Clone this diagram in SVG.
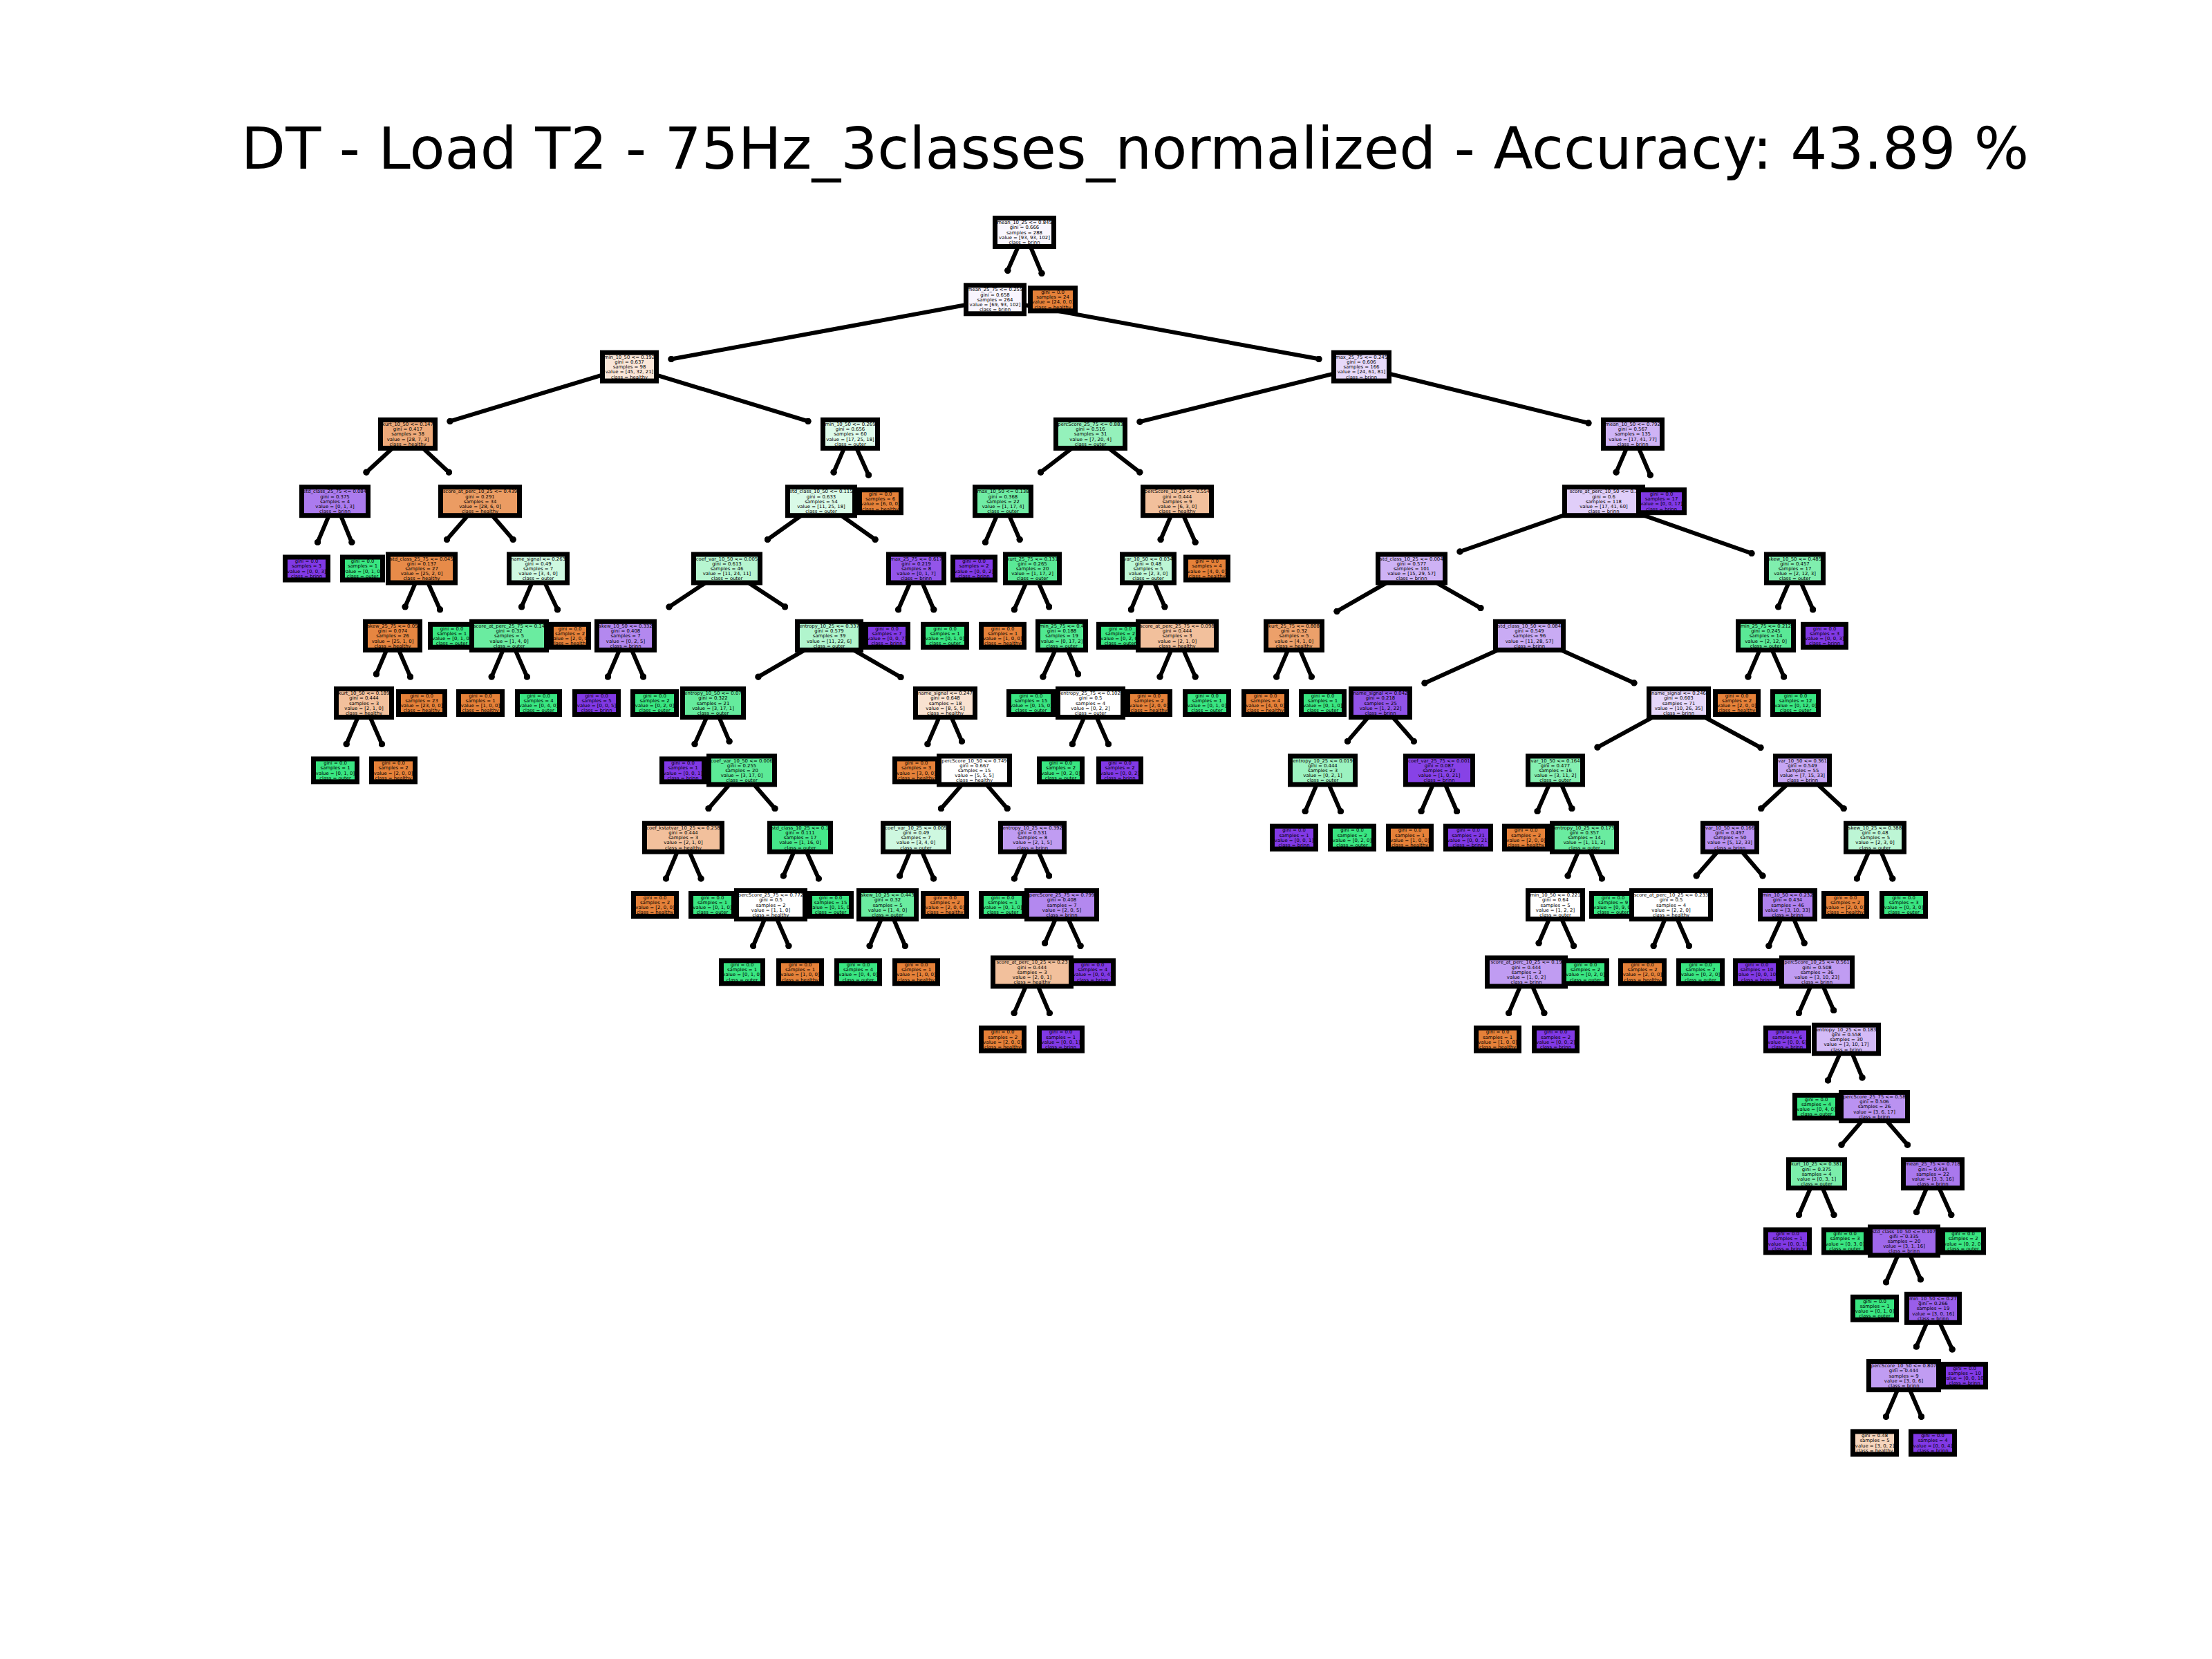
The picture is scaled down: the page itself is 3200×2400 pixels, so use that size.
<svg xmlns="http://www.w3.org/2000/svg" width="3200" height="2400" viewBox="0 0 3200 2400">
<defs>
<style>
.bg{fill:#ffffff}
.title{font-family:"DejaVu Sans","Liberation Sans",sans-serif;font-size:83.5px;text-anchor:middle;fill:#000}
rect.n{stroke:#000;stroke-width:7}
.h{fill:#e58139}.o{fill:#39e581}.p{fill:#8139e5}
text.t{font-family:"DejaVu Sans","Liberation Sans",sans-serif;font-size:6.9px;text-anchor:middle;fill:#000}
#edges line{stroke:#000;stroke-width:6;stroke-linecap:round;marker-end:url(#dot)}
</style>
<marker id="dot" viewBox="0 0 10 10" refX="5" refY="5" markerWidth="9.5" markerHeight="9.5" markerUnits="userSpaceOnUse"><circle cx="5" cy="5" r="5" fill="#000"/></marker>
</defs>
<rect class="bg" x="0" y="0" width="3200" height="2400"/>
<text class="title" x="1642" y="244">DT - Load T2 - 75Hz_3classes_normalized - Accuracy: 43.89 %</text>
<g id="edges">
<line x1="1482" y1="336" x2="1457.8" y2="391.3"/><line x1="1482" y1="336" x2="1507" y2="395.3"/>
<line x1="1439.5" y1="433.3" x2="971" y2="519.5"/><line x1="1439.5" y1="433.3" x2="1908" y2="519.3"/>
<line x1="910.5" y1="530.6" x2="651" y2="609.4"/><line x1="910.5" y1="530.6" x2="1169" y2="609.3"/>
<line x1="1969.5" y1="530.6" x2="1649" y2="610.2"/><line x1="1969.5" y1="530.6" x2="2298" y2="612"/>
<line x1="590" y1="627.9" x2="530" y2="683.2"/><line x1="590" y1="627.9" x2="649.4" y2="683.2"/>
<line x1="1230" y1="627.9" x2="1206.1" y2="683.2"/><line x1="1230" y1="627.9" x2="1256.5" y2="687.2"/>
<line x1="1577.5" y1="627.9" x2="1505.6" y2="683.2"/><line x1="1577.5" y1="627.9" x2="1648.8" y2="683.2"/>
<line x1="2362" y1="627.9" x2="2338.1" y2="683.2"/><line x1="2362" y1="627.9" x2="2387.3" y2="687.2"/>
<line x1="484.5" y1="725.2" x2="459.5" y2="784.5"/><line x1="484.5" y1="725.2" x2="508.9" y2="784.5"/>
<line x1="694.5" y1="725.2" x2="646.5" y2="780.5"/><line x1="694.5" y1="725.2" x2="742.2" y2="780.5"/>
<line x1="1188" y1="725.2" x2="1110.4" y2="780.5"/><line x1="1188" y1="725.2" x2="1266.1" y2="780.5"/>
<line x1="1451" y1="725.2" x2="1425.4" y2="784.5"/><line x1="1451" y1="725.2" x2="1475.2" y2="780.5"/>
<line x1="1703" y1="725.2" x2="1679.1" y2="780.5"/><line x1="1703" y1="725.2" x2="1729.2" y2="784.5"/>
<line x1="2320" y1="725.2" x2="2112" y2="798"/><line x1="2320" y1="725.2" x2="2534" y2="800.5"/>
<line x1="610" y1="822.5" x2="586.1" y2="877.8"/><line x1="610" y1="822.5" x2="636.5" y2="881.8"/>
<line x1="778.5" y1="822.5" x2="754.6" y2="877.8"/><line x1="778.5" y1="822.5" x2="806.5" y2="881.8"/>
<line x1="1051.5" y1="822.5" x2="968" y2="878"/><line x1="1051.5" y1="822.5" x2="1135.6" y2="877.8"/>
<line x1="1325.5" y1="822.5" x2="1299.6" y2="881.8"/><line x1="1325.5" y1="822.5" x2="1350.8" y2="881.8"/>
<line x1="1493.5" y1="822.5" x2="1467.3" y2="881.8"/><line x1="1493.5" y1="822.5" x2="1517.7" y2="877.8"/>
<line x1="1661" y1="822.5" x2="1636.3" y2="881.8"/><line x1="1661" y1="822.5" x2="1684.9" y2="877.8"/>
<line x1="2042" y1="822.5" x2="1934" y2="884.3"/><line x1="2042" y1="822.5" x2="2142" y2="879.6"/>
<line x1="2596.5" y1="822.5" x2="2572.6" y2="877.8"/><line x1="2596.5" y1="822.5" x2="2622.7" y2="881.8"/>
<line x1="568" y1="919.8" x2="544.4" y2="975.1"/><line x1="568" y1="919.8" x2="593.6" y2="979.1"/>
<line x1="736.5" y1="919.8" x2="711.2" y2="979.1"/><line x1="736.5" y1="919.8" x2="762.4" y2="979.1"/>
<line x1="905" y1="919.8" x2="879.4" y2="979.1"/><line x1="905" y1="919.8" x2="930.6" y2="979.1"/>
<line x1="1199.5" y1="919.8" x2="1097" y2="979.2"/><line x1="1199.5" y1="919.8" x2="1303" y2="979.7"/>
<line x1="1536" y1="919.8" x2="1508.9" y2="979.1"/><line x1="1536" y1="919.8" x2="1559.6" y2="975.1"/>
<line x1="1703" y1="919.8" x2="1678" y2="979.1"/><line x1="1703" y1="919.8" x2="1729.2" y2="979.1"/>
<line x1="1872" y1="919.8" x2="1846.7" y2="979.1"/><line x1="1872" y1="919.8" x2="1897.3" y2="979.1"/>
<line x1="2212.5" y1="919.8" x2="2061" y2="988.2"/><line x1="2212.5" y1="919.8" x2="2364" y2="988"/>
<line x1="2554.5" y1="919.8" x2="2528.9" y2="979.1"/><line x1="2554.5" y1="919.8" x2="2580.7" y2="979.1"/>
<line x1="526.5" y1="1017.1" x2="501.2" y2="1076.4"/><line x1="526.5" y1="1017.1" x2="552.4" y2="1076.4"/>
<line x1="1031.5" y1="1017.1" x2="1005" y2="1076.4"/><line x1="1031.5" y1="1017.1" x2="1055.1" y2="1072.4"/>
<line x1="1367.5" y1="1017.1" x2="1341.9" y2="1076.4"/><line x1="1367.5" y1="1017.1" x2="1391.4" y2="1072.4"/>
<line x1="1577.5" y1="1017.1" x2="1551.3" y2="1076.4"/><line x1="1577.5" y1="1017.1" x2="1603.4" y2="1076.4"/>
<line x1="1997" y1="1017.1" x2="1949.5" y2="1072.4"/><line x1="1997" y1="1017.1" x2="2045.3" y2="1072.4"/>
<line x1="2428.5" y1="1017.1" x2="2311" y2="1081.1"/><line x1="2428.5" y1="1017.1" x2="2547" y2="1081.5"/>
<line x1="1073" y1="1114.4" x2="1025" y2="1169.7"/><line x1="1073" y1="1114.4" x2="1121" y2="1169.7"/>
<line x1="1409.5" y1="1114.4" x2="1361.5" y2="1169.7"/><line x1="1409.5" y1="1114.4" x2="1457.2" y2="1169.7"/>
<line x1="1913.5" y1="1114.4" x2="1888.2" y2="1173.7"/><line x1="1913.5" y1="1114.4" x2="1939.4" y2="1173.7"/>
<line x1="2082" y1="1114.4" x2="2056.1" y2="1173.7"/><line x1="2082" y1="1114.4" x2="2107.6" y2="1173.7"/>
<line x1="2250" y1="1114.4" x2="2224.1" y2="1173.7"/><line x1="2250" y1="1114.4" x2="2273.9" y2="1169.7"/>
<line x1="2607.5" y1="1114.4" x2="2547.8" y2="1169.7"/><line x1="2607.5" y1="1114.4" x2="2667.2" y2="1169.7"/>
<line x1="988.5" y1="1211.7" x2="963.5" y2="1271"/><line x1="988.5" y1="1211.7" x2="1014.1" y2="1271"/>
<line x1="1157.5" y1="1211.7" x2="1133.3" y2="1267"/><line x1="1157.5" y1="1211.7" x2="1184.3" y2="1271"/>
<line x1="1325" y1="1211.7" x2="1301.7" y2="1267"/><line x1="1325" y1="1211.7" x2="1350.6" y2="1271"/>
<line x1="1493.5" y1="1211.7" x2="1467.3" y2="1271"/><line x1="1493.5" y1="1211.7" x2="1517.7" y2="1267"/>
<line x1="2292" y1="1211.7" x2="2268.1" y2="1267"/><line x1="2292" y1="1211.7" x2="2317.3" y2="1271"/>
<line x1="2502.5" y1="1211.7" x2="2454.2" y2="1267"/><line x1="2502.5" y1="1211.7" x2="2550" y2="1267"/>
<line x1="2712.5" y1="1211.7" x2="2686.3" y2="1271"/><line x1="2712.5" y1="1211.7" x2="2737.8" y2="1271"/>
<line x1="1115" y1="1309" x2="1089.7" y2="1368.3"/><line x1="1115" y1="1309" x2="1140.9" y2="1368.3"/>
<line x1="1284" y1="1309" x2="1258.1" y2="1368.3"/><line x1="1284" y1="1309" x2="1309.3" y2="1368.3"/>
<line x1="1536" y1="1309" x2="1511.6" y2="1364.3"/><line x1="1536" y1="1309" x2="1563.1" y2="1368.3"/>
<line x1="2250" y1="1309" x2="2226.1" y2="1364.3"/><line x1="2250" y1="1309" x2="2276.5" y2="1368.3"/>
<line x1="2417.5" y1="1309" x2="2392.2" y2="1368.3"/><line x1="2417.5" y1="1309" x2="2443.4" y2="1368.3"/>
<line x1="2586" y1="1309" x2="2558.9" y2="1368.3"/><line x1="2586" y1="1309" x2="2610.2" y2="1364.3"/>
<line x1="1493" y1="1406.3" x2="1467.1" y2="1465.6"/><line x1="1493" y1="1406.3" x2="1518.3" y2="1465.6"/>
<line x1="2208" y1="1406.3" x2="2182.7" y2="1465.6"/><line x1="2208" y1="1406.3" x2="2233.9" y2="1465.6"/>
<line x1="2628.5" y1="1406.3" x2="2602.3" y2="1465.6"/><line x1="2628.5" y1="1406.3" x2="2652.7" y2="1461.6"/>
<line x1="2671" y1="1503.6" x2="2644.5" y2="1562.9"/><line x1="2671" y1="1503.6" x2="2694" y2="1558.9"/>
<line x1="2711.5" y1="1600.9" x2="2664" y2="1656.2"/><line x1="2711.5" y1="1600.9" x2="2759.5" y2="1656.2"/>
<line x1="2628" y1="1698.2" x2="2602.4" y2="1757.5"/><line x1="2628" y1="1698.2" x2="2653" y2="1757.5"/>
<line x1="2796" y1="1698.2" x2="2772.4" y2="1753.5"/><line x1="2796" y1="1698.2" x2="2822.8" y2="1757.5"/>
<line x1="2754.5" y1="1795.5" x2="2728.6" y2="1854.8"/><line x1="2754.5" y1="1795.5" x2="2778.4" y2="1850.8"/>
<line x1="2796.5" y1="1892.8" x2="2772.3" y2="1948.1"/><line x1="2796.5" y1="1892.8" x2="2824.2" y2="1952.1"/>
<line x1="2754" y1="1990.1" x2="2728.4" y2="2049.4"/><line x1="2754" y1="1990.1" x2="2779.6" y2="2049.4"/>
</g>
<g id="nodes">
<!-- depth 18 -->
<g id="n132"><rect class="n" x="2680.5" y="2070.9" width="63" height="33" fill="#f6d5bd"/><text class="t" x="2712" y="2079.1">gini = 0.48<tspan x="2712" dy="7.2">samples = 5</tspan><tspan x="2712" dy="7.2">value = [3, 0, 2]</tspan><tspan x="2712" dy="7.2">class = healthy</tspan></text></g>
<g id="n133"><rect class="n p" x="2764.5" y="2070.9" width="63" height="33"/><text class="t" x="2796" y="2079.1">gini = 0.0<tspan x="2796" dy="7.2">samples = 4</tspan><tspan x="2796" dy="7.2">value = [0, 0, 4]</tspan><tspan x="2796" dy="7.2">class = brinn</tspan></text></g>
<!-- depth 17 -->
<g id="n130"><rect class="n" x="2703.5" y="1969.6" width="101" height="41" fill="#c09cf2"/><text class="t" x="2754" y="1978.2">percScore_10_50 &lt;= 0.807<tspan x="2754" dy="7.2">gini = 0.444</tspan><tspan x="2754" dy="7.2">samples = 9</tspan><tspan x="2754" dy="7.2">value = [3, 0, 6]</tspan><tspan x="2754" dy="7.2">class = brinn</tspan></text></g>
<g id="n131"><rect class="n p" x="2811.5" y="1973.6" width="61" height="33"/><text class="t" x="2842" y="1981.8">gini = 0.0<tspan x="2842" dy="7.2">samples = 10</tspan><tspan x="2842" dy="7.2">value = [0, 0, 10]</tspan><tspan x="2842" dy="7.2">class = brinn</tspan></text></g>
<!-- depth 16 -->
<g id="n128"><rect class="n o" x="2680.5" y="1876.3" width="63" height="33"/><text class="t" x="2712" y="1884.5">gini = 0.0<tspan x="2712" dy="7.2">samples = 1</tspan><tspan x="2712" dy="7.2">value = [0, 1, 0]</tspan><tspan x="2712" dy="7.2">class = outer</tspan></text></g>
<g id="n129"><rect class="n" x="2758.5" y="1872.3" width="76" height="41" fill="#995eea"/><text class="t" x="2796.5" y="1880.9">min_10_50 &lt;= 0.27<tspan x="2796.5" dy="7.2">gini = 0.266</tspan><tspan x="2796.5" dy="7.2">samples = 19</tspan><tspan x="2796.5" dy="7.2">value = [3, 0, 16]</tspan><tspan x="2796.5" dy="7.2">class = brinn</tspan></text></g>
<!-- depth 15 -->
<g id="n124"><rect class="n p" x="2554.5" y="1779" width="63" height="33"/><text class="t" x="2586" y="1787.2">gini = 0.0<tspan x="2586" dy="7.2">samples = 1</tspan><tspan x="2586" dy="7.2">value = [0, 0, 1]</tspan><tspan x="2586" dy="7.2">class = brinn</tspan></text></g>
<g id="n125"><rect class="n o" x="2638.5" y="1779" width="61" height="33"/><text class="t" x="2669" y="1787.2">gini = 0.0<tspan x="2669" dy="7.2">samples = 3</tspan><tspan x="2669" dy="7.2">value = [0, 3, 0]</tspan><tspan x="2669" dy="7.2">class = outer</tspan></text></g>
<g id="n126"><rect class="n" x="2705.5" y="1775" width="98" height="41" fill="#9f68eb"/><text class="t" x="2754.5" y="1783.6">std_class_10_50 &lt;= 0.107<tspan x="2754.5" dy="7.2">gini = 0.335</tspan><tspan x="2754.5" dy="7.2">samples = 20</tspan><tspan x="2754.5" dy="7.2">value = [3, 1, 16]</tspan><tspan x="2754.5" dy="7.2">class = brinn</tspan></text></g>
<g id="n127"><rect class="n o" x="2810.5" y="1779" width="59" height="33"/><text class="t" x="2840" y="1787.2">gini = 0.0<tspan x="2840" dy="7.2">samples = 2</tspan><tspan x="2840" dy="7.2">value = [0, 2, 0]</tspan><tspan x="2840" dy="7.2">class = outer</tspan></text></g>
<!-- depth 14 -->
<g id="n122"><rect class="n" x="2587.5" y="1677.7" width="81" height="41" fill="#7beeab"/><text class="t" x="2628" y="1686.3">kurt_10_25 &lt;= 0.381<tspan x="2628" dy="7.2">gini = 0.375</tspan><tspan x="2628" dy="7.2">samples = 4</tspan><tspan x="2628" dy="7.2">value = [0, 3, 1]</tspan><tspan x="2628" dy="7.2">class = outer</tspan></text></g>
<g id="n123"><rect class="n" x="2753.5" y="1677.7" width="85" height="41" fill="#a978ed"/><text class="t" x="2796" y="1686.3">mean_25_75 &lt;= 0.718<tspan x="2796" dy="7.2">gini = 0.434</tspan><tspan x="2796" dy="7.2">samples = 22</tspan><tspan x="2796" dy="7.2">value = [3, 3, 16]</tspan><tspan x="2796" dy="7.2">class = brinn</tspan></text></g>
<!-- depth 13 -->
<g id="n120"><rect class="n o" x="2596.5" y="1584.4" width="62" height="33"/><text class="t" x="2627.5" y="1592.6">gini = 0.0<tspan x="2627.5" dy="7.2">samples = 4</tspan><tspan x="2627.5" dy="7.2">value = [0, 4, 0]</tspan><tspan x="2627.5" dy="7.2">class = outer</tspan></text></g>
<g id="n121"><rect class="n" x="2663.5" y="1580.4" width="96" height="41" fill="#ba92f1"/><text class="t" x="2711.5" y="1589">percScore_25_75 &lt;= 0.58<tspan x="2711.5" dy="7.2">gini = 0.506</tspan><tspan x="2711.5" dy="7.2">samples = 26</tspan><tspan x="2711.5" dy="7.2">value = [3, 6, 17]</tspan><tspan x="2711.5" dy="7.2">class = brinn</tspan></text></g>
<!-- depth 12 -->
<g id="n114"><rect class="n h" x="1419.5" y="1487.1" width="62" height="33"/><text class="t" x="1450.5" y="1495.3">gini = 0.0<tspan x="1450.5" dy="7.2">samples = 2</tspan><tspan x="1450.5" dy="7.2">value = [2, 0, 0]</tspan><tspan x="1450.5" dy="7.2">class = healthy</tspan></text></g>
<g id="n115"><rect class="n p" x="1503.5" y="1487.1" width="62" height="33"/><text class="t" x="1534.5" y="1495.3">gini = 0.0<tspan x="1534.5" dy="7.2">samples = 1</tspan><tspan x="1534.5" dy="7.2">value = [0, 0, 1]</tspan><tspan x="1534.5" dy="7.2">class = brinn</tspan></text></g>
<g id="n116"><rect class="n h" x="2135.5" y="1487.1" width="62" height="33"/><text class="t" x="2166.5" y="1495.3">gini = 0.0<tspan x="2166.5" dy="7.2">samples = 1</tspan><tspan x="2166.5" dy="7.2">value = [1, 0, 0]</tspan><tspan x="2166.5" dy="7.2">class = healthy</tspan></text></g>
<g id="n117"><rect class="n p" x="2219.5" y="1487.1" width="62" height="33"/><text class="t" x="2250.5" y="1495.3">gini = 0.0<tspan x="2250.5" dy="7.2">samples = 2</tspan><tspan x="2250.5" dy="7.2">value = [0, 0, 2]</tspan><tspan x="2250.5" dy="7.2">class = brinn</tspan></text></g>
<g id="n118"><rect class="n p" x="2554.5" y="1487.1" width="62" height="33"/><text class="t" x="2585.5" y="1495.3">gini = 0.0<tspan x="2585.5" dy="7.2">samples = 6</tspan><tspan x="2585.5" dy="7.2">value = [0, 0, 6]</tspan><tspan x="2585.5" dy="7.2">class = brinn</tspan></text></g>
<g id="n119"><rect class="n" x="2624.5" y="1483.1" width="93" height="41" fill="#d3baf6"/><text class="t" x="2671" y="1491.7">entropy_10_25 &lt;= 0.183<tspan x="2671" dy="7.2">gini = 0.558</tspan><tspan x="2671" dy="7.2">samples = 30</tspan><tspan x="2671" dy="7.2">value = [3, 10, 17]</tspan><tspan x="2671" dy="7.2">class = brinn</tspan></text></g>
<!-- depth 11 -->
<g id="n102"><rect class="n o" x="1043.5" y="1389.8" width="60" height="33"/><text class="t" x="1073.5" y="1398">gini = 0.0<tspan x="1073.5" dy="7.2">samples = 1</tspan><tspan x="1073.5" dy="7.2">value = [0, 1, 0]</tspan><tspan x="1073.5" dy="7.2">class = outer</tspan></text></g>
<g id="n103"><rect class="n h" x="1126.5" y="1389.8" width="62" height="33"/><text class="t" x="1157.5" y="1398">gini = 0.0<tspan x="1157.5" dy="7.2">samples = 1</tspan><tspan x="1157.5" dy="7.2">value = [1, 0, 0]</tspan><tspan x="1157.5" dy="7.2">class = healthy</tspan></text></g>
<g id="n104"><rect class="n o" x="1210.5" y="1389.8" width="62" height="33"/><text class="t" x="1241.5" y="1398">gini = 0.0<tspan x="1241.5" dy="7.2">samples = 4</tspan><tspan x="1241.5" dy="7.2">value = [0, 4, 0]</tspan><tspan x="1241.5" dy="7.2">class = outer</tspan></text></g>
<g id="n105"><rect class="n h" x="1294.5" y="1389.8" width="62" height="33"/><text class="t" x="1325.5" y="1398">gini = 0.0<tspan x="1325.5" dy="7.2">samples = 1</tspan><tspan x="1325.5" dy="7.2">value = [1, 0, 0]</tspan><tspan x="1325.5" dy="7.2">class = healthy</tspan></text></g>
<g id="n106"><rect class="n" x="1436.5" y="1385.8" width="113" height="41" fill="#f2c09c"/><text class="t" x="1493" y="1394.4">score_at_perc_10_25 &lt;= 0.23<tspan x="1493" dy="7.2">gini = 0.444</tspan><tspan x="1493" dy="7.2">samples = 3</tspan><tspan x="1493" dy="7.2">value = [2, 0, 1]</tspan><tspan x="1493" dy="7.2">class = healthy</tspan></text></g>
<g id="n107"><rect class="n p" x="1550.5" y="1389.8" width="60" height="33"/><text class="t" x="1580.5" y="1398">gini = 0.0<tspan x="1580.5" dy="7.2">samples = 4</tspan><tspan x="1580.5" dy="7.2">value = [0, 0, 4]</tspan><tspan x="1580.5" dy="7.2">class = brinn</tspan></text></g>
<g id="n108"><rect class="n" x="2151.5" y="1385.8" width="113" height="41" fill="#c09cf2"/><text class="t" x="2208" y="1394.4">score_at_perc_10_25 &lt;= 0.19<tspan x="2208" dy="7.2">gini = 0.444</tspan><tspan x="2208" dy="7.2">samples = 3</tspan><tspan x="2208" dy="7.2">value = [1, 0, 2]</tspan><tspan x="2208" dy="7.2">class = brinn</tspan></text></g>
<g id="n109"><rect class="n o" x="2262.5" y="1389.8" width="62" height="33"/><text class="t" x="2293.5" y="1398">gini = 0.0<tspan x="2293.5" dy="7.2">samples = 2</tspan><tspan x="2293.5" dy="7.2">value = [0, 2, 0]</tspan><tspan x="2293.5" dy="7.2">class = outer</tspan></text></g>
<g id="n110"><rect class="n h" x="2344.5" y="1389.8" width="63" height="33"/><text class="t" x="2376" y="1398">gini = 0.0<tspan x="2376" dy="7.2">samples = 2</tspan><tspan x="2376" dy="7.2">value = [2, 0, 0]</tspan><tspan x="2376" dy="7.2">class = healthy</tspan></text></g>
<g id="n111"><rect class="n o" x="2428.5" y="1389.8" width="63" height="33"/><text class="t" x="2460" y="1398">gini = 0.0<tspan x="2460" dy="7.2">samples = 2</tspan><tspan x="2460" dy="7.2">value = [0, 2, 0]</tspan><tspan x="2460" dy="7.2">class = outer</tspan></text></g>
<g id="n112"><rect class="n p" x="2510.5" y="1389.8" width="62" height="33"/><text class="t" x="2541.5" y="1398">gini = 0.0<tspan x="2541.5" dy="7.2">samples = 10</tspan><tspan x="2541.5" dy="7.2">value = [0, 0, 10]</tspan><tspan x="2541.5" dy="7.2">class = brinn</tspan></text></g>
<g id="n113"><rect class="n" x="2577.5" y="1385.8" width="102" height="41" fill="#c09cf2"/><text class="t" x="2628.5" y="1394.4">percScore_10_25 &lt;= 0.561<tspan x="2628.5" dy="7.2">gini = 0.508</tspan><tspan x="2628.5" dy="7.2">samples = 36</tspan><tspan x="2628.5" dy="7.2">value = [3, 10, 23]</tspan><tspan x="2628.5" dy="7.2">class = brinn</tspan></text></g>
<!-- depth 10 -->
<g id="n88"><rect class="n h" x="916.5" y="1292.5" width="62" height="33"/><text class="t" x="947.5" y="1300.7">gini = 0.0<tspan x="947.5" dy="7.2">samples = 2</tspan><tspan x="947.5" dy="7.2">value = [2, 0, 0]</tspan><tspan x="947.5" dy="7.2">class = healthy</tspan></text></g>
<g id="n89"><rect class="n o" x="999.5" y="1292.5" width="62" height="33"/><text class="t" x="1030.5" y="1300.7">gini = 0.0<tspan x="1030.5" dy="7.2">samples = 1</tspan><tspan x="1030.5" dy="7.2">value = [0, 1, 0]</tspan><tspan x="1030.5" dy="7.2">class = outer</tspan></text></g>
<g id="n90"><rect class="n" x="1065.5" y="1288.5" width="99" height="41" fill="#ffffff"/><text class="t" x="1115" y="1297.1">percScore_25_75 &lt;= 0.772<tspan x="1115" dy="7.2">gini = 0.5</tspan><tspan x="1115" dy="7.2">samples = 2</tspan><tspan x="1115" dy="7.2">value = [1, 1, 0]</tspan><tspan x="1115" dy="7.2">class = healthy</tspan></text></g>
<g id="n91"><rect class="n o" x="1171.5" y="1292.5" width="60" height="33"/><text class="t" x="1201.5" y="1300.7">gini = 0.0<tspan x="1201.5" dy="7.2">samples = 15</tspan><tspan x="1201.5" dy="7.2">value = [0, 15, 0]</tspan><tspan x="1201.5" dy="7.2">class = outer</tspan></text></g>
<g id="n92"><rect class="n" x="1242.5" y="1288.5" width="83" height="41" fill="#6aeca0"/><text class="t" x="1284" y="1297.1">skew_10_25 &lt;= 0.443<tspan x="1284" dy="7.2">gini = 0.32</tspan><tspan x="1284" dy="7.2">samples = 5</tspan><tspan x="1284" dy="7.2">value = [1, 4, 0]</tspan><tspan x="1284" dy="7.2">class = outer</tspan></text></g>
<g id="n93"><rect class="n h" x="1335.5" y="1292.5" width="63" height="33"/><text class="t" x="1367" y="1300.7">gini = 0.0<tspan x="1367" dy="7.2">samples = 2</tspan><tspan x="1367" dy="7.2">value = [2, 0, 0]</tspan><tspan x="1367" dy="7.2">class = healthy</tspan></text></g>
<g id="n94"><rect class="n o" x="1419.5" y="1292.5" width="62" height="33"/><text class="t" x="1450.5" y="1300.7">gini = 0.0<tspan x="1450.5" dy="7.2">samples = 1</tspan><tspan x="1450.5" dy="7.2">value = [0, 1, 0]</tspan><tspan x="1450.5" dy="7.2">class = outer</tspan></text></g>
<g id="n95"><rect class="n" x="1485.5" y="1288.5" width="101" height="41" fill="#b388ef"/><text class="t" x="1536" y="1297.1">percScore_25_75 &lt;= 0.799<tspan x="1536" dy="7.2">gini = 0.408</tspan><tspan x="1536" dy="7.2">samples = 7</tspan><tspan x="1536" dy="7.2">value = [2, 0, 5]</tspan><tspan x="1536" dy="7.2">class = brinn</tspan></text></g>
<g id="n96"><rect class="n" x="2210.5" y="1288.5" width="79" height="41" fill="#ffffff"/><text class="t" x="2250" y="1297.1">min_10_50 &lt;= 0.221<tspan x="2250" dy="7.2">gini = 0.64</tspan><tspan x="2250" dy="7.2">samples = 5</tspan><tspan x="2250" dy="7.2">value = [1, 2, 2]</tspan><tspan x="2250" dy="7.2">class = outer</tspan></text></g>
<g id="n97"><rect class="n o" x="2302.5" y="1292.5" width="62" height="33"/><text class="t" x="2333.5" y="1300.7">gini = 0.0<tspan x="2333.5" dy="7.2">samples = 9</tspan><tspan x="2333.5" dy="7.2">value = [0, 9, 0]</tspan><tspan x="2333.5" dy="7.2">class = outer</tspan></text></g>
<g id="n98"><rect class="n" x="2360.5" y="1288.5" width="114" height="41" fill="#ffffff"/><text class="t" x="2417.5" y="1297.1">score_at_perc_10_25 &lt;= 0.233<tspan x="2417.5" dy="7.2">gini = 0.5</tspan><tspan x="2417.5" dy="7.2">samples = 4</tspan><tspan x="2417.5" dy="7.2">value = [2, 2, 0]</tspan><tspan x="2417.5" dy="7.2">class = healthy</tspan></text></g>
<g id="n99"><rect class="n" x="2546.5" y="1288.5" width="79" height="41" fill="#ae80ee"/><text class="t" x="2586" y="1297.1">min_10_50 &lt;= 0.232<tspan x="2586" dy="7.2">gini = 0.434</tspan><tspan x="2586" dy="7.2">samples = 46</tspan><tspan x="2586" dy="7.2">value = [3, 10, 33]</tspan><tspan x="2586" dy="7.2">class = brinn</tspan></text></g>
<g id="n100"><rect class="n h" x="2638.5" y="1292.5" width="62" height="33"/><text class="t" x="2669.5" y="1300.7">gini = 0.0<tspan x="2669.5" dy="7.2">samples = 2</tspan><tspan x="2669.5" dy="7.2">value = [2, 0, 0]</tspan><tspan x="2669.5" dy="7.2">class = healthy</tspan></text></g>
<g id="n101"><rect class="n o" x="2722.5" y="1292.5" width="63" height="33"/><text class="t" x="2754" y="1300.7">gini = 0.0<tspan x="2754" dy="7.2">samples = 3</tspan><tspan x="2754" dy="7.2">value = [0, 3, 0]</tspan><tspan x="2754" dy="7.2">class = outer</tspan></text></g>
<!-- depth 9 -->
<g id="n76"><rect class="n" x="932.5" y="1191.2" width="112" height="41" fill="#f2c09c"/><text class="t" x="988.5" y="1199.8">coef_kstatvar_10_25 &lt;= 0.258<tspan x="988.5" dy="7.2">gini = 0.444</tspan><tspan x="988.5" dy="7.2">samples = 3</tspan><tspan x="988.5" dy="7.2">value = [2, 1, 0]</tspan><tspan x="988.5" dy="7.2">class = healthy</tspan></text></g>
<g id="n77"><rect class="n" x="1113.5" y="1191.2" width="88" height="41" fill="#45e789"/><text class="t" x="1157.5" y="1199.8">std_class_10_25 &lt;= 0.1<tspan x="1157.5" dy="7.2">gini = 0.111</tspan><tspan x="1157.5" dy="7.2">samples = 17</tspan><tspan x="1157.5" dy="7.2">value = [1, 16, 0]</tspan><tspan x="1157.5" dy="7.2">class = outer</tspan></text></g>
<g id="n78"><rect class="n" x="1277.5" y="1191.2" width="95" height="41" fill="#cef8e0"/><text class="t" x="1325" y="1199.8">coef_var_10_25 &lt;= 0.005<tspan x="1325" dy="7.2">gini = 0.49</tspan><tspan x="1325" dy="7.2">samples = 7</tspan><tspan x="1325" dy="7.2">value = [3, 4, 0]</tspan><tspan x="1325" dy="7.2">class = outer</tspan></text></g>
<g id="n79"><rect class="n" x="1447.5" y="1191.2" width="92" height="41" fill="#c09cf2"/><text class="t" x="1493.5" y="1199.8">entropy_10_25 &lt;= 0.392<tspan x="1493.5" dy="7.2">gini = 0.531</tspan><tspan x="1493.5" dy="7.2">samples = 8</tspan><tspan x="1493.5" dy="7.2">value = [2, 1, 5]</tspan><tspan x="1493.5" dy="7.2">class = brinn</tspan></text></g>
<g id="n80"><rect class="n p" x="1840.5" y="1195.2" width="63" height="33"/><text class="t" x="1872" y="1203.4">gini = 0.0<tspan x="1872" dy="7.2">samples = 1</tspan><tspan x="1872" dy="7.2">value = [0, 0, 1]</tspan><tspan x="1872" dy="7.2">class = brinn</tspan></text></g>
<g id="n81"><rect class="n o" x="1924.5" y="1195.2" width="63" height="33"/><text class="t" x="1956" y="1203.4">gini = 0.0<tspan x="1956" dy="7.2">samples = 2</tspan><tspan x="1956" dy="7.2">value = [0, 2, 0]</tspan><tspan x="1956" dy="7.2">class = outer</tspan></text></g>
<g id="n82"><rect class="n h" x="2008.5" y="1195.2" width="62" height="33"/><text class="t" x="2039.5" y="1203.4">gini = 0.0<tspan x="2039.5" dy="7.2">samples = 1</tspan><tspan x="2039.5" dy="7.2">value = [1, 0, 0]</tspan><tspan x="2039.5" dy="7.2">class = healthy</tspan></text></g>
<g id="n83"><rect class="n p" x="2091.5" y="1195.2" width="65" height="33"/><text class="t" x="2124" y="1203.4">gini = 0.0<tspan x="2124" dy="7.2">samples = 21</tspan><tspan x="2124" dy="7.2">value = [0, 0, 21]</tspan><tspan x="2124" dy="7.2">class = brinn</tspan></text></g>
<g id="n84"><rect class="n h" x="2176.5" y="1195.2" width="62" height="33"/><text class="t" x="2207.5" y="1203.4">gini = 0.0<tspan x="2207.5" dy="7.2">samples = 2</tspan><tspan x="2207.5" dy="7.2">value = [2, 0, 0]</tspan><tspan x="2207.5" dy="7.2">class = healthy</tspan></text></g>
<g id="n85"><rect class="n" x="2245.5" y="1191.2" width="93" height="41" fill="#6aeca0"/><text class="t" x="2292" y="1199.8">entropy_10_25 &lt;= 0.173<tspan x="2292" dy="7.2">gini = 0.357</tspan><tspan x="2292" dy="7.2">samples = 14</tspan><tspan x="2292" dy="7.2">value = [1, 11, 2]</tspan><tspan x="2292" dy="7.2">class = outer</tspan></text></g>
<g id="n86"><rect class="n" x="2463.5" y="1191.2" width="78" height="41" fill="#b991f1"/><text class="t" x="2502.5" y="1199.8">var_10_50 &lt;= 0.166<tspan x="2502.5" dy="7.2">gini = 0.497</tspan><tspan x="2502.5" dy="7.2">samples = 50</tspan><tspan x="2502.5" dy="7.2">value = [5, 12, 33]</tspan><tspan x="2502.5" dy="7.2">class = brinn</tspan></text></g>
<g id="n87"><rect class="n" x="2670.5" y="1191.2" width="84" height="41" fill="#bdf6d5"/><text class="t" x="2712.5" y="1199.8">skew_10_25 &lt;= 0.388<tspan x="2712.5" dy="7.2">gini = 0.48</tspan><tspan x="2712.5" dy="7.2">samples = 5</tspan><tspan x="2712.5" dy="7.2">value = [2, 3, 0]</tspan><tspan x="2712.5" dy="7.2">class = outer</tspan></text></g>
<!-- depth 8 -->
<g id="n64"><rect class="n o" x="453.5" y="1097.9" width="63" height="33"/><text class="t" x="485" y="1106.1">gini = 0.0<tspan x="485" dy="7.2">samples = 1</tspan><tspan x="485" dy="7.2">value = [0, 1, 0]</tspan><tspan x="485" dy="7.2">class = outer</tspan></text></g>
<g id="n65"><rect class="n h" x="537.5" y="1097.9" width="63" height="33"/><text class="t" x="569" y="1106.1">gini = 0.0<tspan x="569" dy="7.2">samples = 2</tspan><tspan x="569" dy="7.2">value = [2, 0, 0]</tspan><tspan x="569" dy="7.2">class = healthy</tspan></text></g>
<g id="n66"><rect class="n p" x="957.5" y="1097.9" width="61" height="33"/><text class="t" x="988" y="1106.1">gini = 0.0<tspan x="988" dy="7.2">samples = 1</tspan><tspan x="988" dy="7.2">value = [0, 0, 1]</tspan><tspan x="988" dy="7.2">class = brinn</tspan></text></g>
<g id="n67"><rect class="n" x="1025.5" y="1093.9" width="95" height="41" fill="#5cea97"/><text class="t" x="1073" y="1102.5">coef_var_10_50 &lt;= 0.006<tspan x="1073" dy="7.2">gini = 0.255</tspan><tspan x="1073" dy="7.2">samples = 20</tspan><tspan x="1073" dy="7.2">value = [3, 17, 0]</tspan><tspan x="1073" dy="7.2">class = outer</tspan></text></g>
<g id="n68"><rect class="n h" x="1294.5" y="1097.9" width="62" height="33"/><text class="t" x="1325.5" y="1106.1">gini = 0.0<tspan x="1325.5" dy="7.2">samples = 3</tspan><tspan x="1325.5" dy="7.2">value = [3, 0, 0]</tspan><tspan x="1325.5" dy="7.2">class = healthy</tspan></text></g>
<g id="n69"><rect class="n" x="1358.5" y="1093.9" width="102" height="41" fill="#ffffff"/><text class="t" x="1409.5" y="1102.5">percScore_10_50 &lt;= 0.749<tspan x="1409.5" dy="7.2">gini = 0.667</tspan><tspan x="1409.5" dy="7.2">samples = 15</tspan><tspan x="1409.5" dy="7.2">value = [5, 5, 5]</tspan><tspan x="1409.5" dy="7.2">class = healthy</tspan></text></g>
<g id="n70"><rect class="n o" x="1503.5" y="1097.9" width="62" height="33"/><text class="t" x="1534.5" y="1106.1">gini = 0.0<tspan x="1534.5" dy="7.2">samples = 2</tspan><tspan x="1534.5" dy="7.2">value = [0, 2, 0]</tspan><tspan x="1534.5" dy="7.2">class = outer</tspan></text></g>
<g id="n71"><rect class="n p" x="1589.5" y="1097.9" width="61" height="33"/><text class="t" x="1620" y="1106.1">gini = 0.0<tspan x="1620" dy="7.2">samples = 2</tspan><tspan x="1620" dy="7.2">value = [0, 0, 2]</tspan><tspan x="1620" dy="7.2">class = brinn</tspan></text></g>
<g id="n72"><rect class="n" x="1866.5" y="1093.9" width="94" height="41" fill="#9cf2c0"/><text class="t" x="1913.5" y="1102.5">entropy_10_25 &lt;= 0.019<tspan x="1913.5" dy="7.2">gini = 0.444</tspan><tspan x="1913.5" dy="7.2">samples = 3</tspan><tspan x="1913.5" dy="7.2">value = [0, 2, 1]</tspan><tspan x="1913.5" dy="7.2">class = outer</tspan></text></g>
<g id="n73"><rect class="n" x="2033.5" y="1093.9" width="97" height="41" fill="#8742e6"/><text class="t" x="2082" y="1102.5">coef_var_25_75 &lt;= 0.001<tspan x="2082" dy="7.2">gini = 0.087</tspan><tspan x="2082" dy="7.2">samples = 22</tspan><tspan x="2082" dy="7.2">value = [1, 0, 21]</tspan><tspan x="2082" dy="7.2">class = brinn</tspan></text></g>
<g id="n74"><rect class="n" x="2210.5" y="1093.9" width="79" height="41" fill="#85efb1"/><text class="t" x="2250" y="1102.5">var_10_50 &lt;= 0.164<tspan x="2250" dy="7.2">gini = 0.477</tspan><tspan x="2250" dy="7.2">samples = 16</tspan><tspan x="2250" dy="7.2">value = [3, 11, 2]</tspan><tspan x="2250" dy="7.2">class = outer</tspan></text></g>
<g id="n75"><rect class="n" x="2568.5" y="1093.9" width="78" height="41" fill="#c6a6f3"/><text class="t" x="2607.5" y="1102.5">var_10_50 &lt;= 0.361<tspan x="2607.5" dy="7.2">gini = 0.549</tspan><tspan x="2607.5" dy="7.2">samples = 55</tspan><tspan x="2607.5" dy="7.2">value = [7, 15, 33]</tspan><tspan x="2607.5" dy="7.2">class = brinn</tspan></text></g>
<!-- depth 7 -->
<g id="n46"><rect class="n" x="486.5" y="996.6" width="80" height="41" fill="#f2c09c"/><text class="t" x="526.5" y="1005.2">kurt_10_50 &lt;= 0.189<tspan x="526.5" dy="7.2">gini = 0.444</tspan><tspan x="526.5" dy="7.2">samples = 3</tspan><tspan x="526.5" dy="7.2">value = [2, 1, 0]</tspan><tspan x="526.5" dy="7.2">class = healthy</tspan></text></g>
<g id="n47"><rect class="n h" x="576.5" y="1000.6" width="67" height="33"/><text class="t" x="610" y="1008.8">gini = 0.0<tspan x="610" dy="7.2">samples = 23</tspan><tspan x="610" dy="7.2">value = [23, 0, 0]</tspan><tspan x="610" dy="7.2">class = healthy</tspan></text></g>
<g id="n48"><rect class="n h" x="663.5" y="1000.6" width="63" height="33"/><text class="t" x="695" y="1008.8">gini = 0.0<tspan x="695" dy="7.2">samples = 1</tspan><tspan x="695" dy="7.2">value = [1, 0, 0]</tspan><tspan x="695" dy="7.2">class = healthy</tspan></text></g>
<g id="n49"><rect class="n o" x="748.5" y="1000.6" width="61" height="33"/><text class="t" x="779" y="1008.8">gini = 0.0<tspan x="779" dy="7.2">samples = 4</tspan><tspan x="779" dy="7.2">value = [0, 4, 0]</tspan><tspan x="779" dy="7.2">class = outer</tspan></text></g>
<g id="n50"><rect class="n p" x="831.5" y="1000.6" width="63" height="33"/><text class="t" x="863" y="1008.8">gini = 0.0<tspan x="863" dy="7.2">samples = 5</tspan><tspan x="863" dy="7.2">value = [0, 0, 5]</tspan><tspan x="863" dy="7.2">class = brinn</tspan></text></g>
<g id="n51"><rect class="n o" x="915.5" y="1000.6" width="63" height="33"/><text class="t" x="947" y="1008.8">gini = 0.0<tspan x="947" dy="7.2">samples = 2</tspan><tspan x="947" dy="7.2">value = [0, 2, 0]</tspan><tspan x="947" dy="7.2">class = outer</tspan></text></g>
<g id="n52"><rect class="n" x="987.5" y="996.6" width="88" height="41" fill="#65eb9d"/><text class="t" x="1031.5" y="1005.2">entropy_10_50 &lt;= 0.07<tspan x="1031.5" dy="7.2">gini = 0.322</tspan><tspan x="1031.5" dy="7.2">samples = 21</tspan><tspan x="1031.5" dy="7.2">value = [3, 17, 1]</tspan><tspan x="1031.5" dy="7.2">class = outer</tspan></text></g>
<g id="n53"><rect class="n" x="1324.5" y="996.6" width="86" height="41" fill="#f9e2d1"/><text class="t" x="1367.5" y="1005.2">name_signal &lt;= 0.247<tspan x="1367.5" dy="7.2">gini = 0.648</tspan><tspan x="1367.5" dy="7.2">samples = 18</tspan><tspan x="1367.5" dy="7.2">value = [8, 5, 5]</tspan><tspan x="1367.5" dy="7.2">class = healthy</tspan></text></g>
<g id="n54"><rect class="n o" x="1459.5" y="1000.6" width="64" height="33"/><text class="t" x="1491.5" y="1008.8">gini = 0.0<tspan x="1491.5" dy="7.2">samples = 15</tspan><tspan x="1491.5" dy="7.2">value = [0, 15, 0]</tspan><tspan x="1491.5" dy="7.2">class = outer</tspan></text></g>
<g id="n55"><rect class="n" x="1530.5" y="996.6" width="94" height="41" fill="#ffffff"/><text class="t" x="1577.5" y="1005.2">entropy_25_75 &lt;= 0.102<tspan x="1577.5" dy="7.2">gini = 0.5</tspan><tspan x="1577.5" dy="7.2">samples = 4</tspan><tspan x="1577.5" dy="7.2">value = [0, 2, 2]</tspan><tspan x="1577.5" dy="7.2">class = outer</tspan></text></g>
<g id="n56"><rect class="n h" x="1631.5" y="1000.6" width="61" height="33"/><text class="t" x="1662" y="1008.8">gini = 0.0<tspan x="1662" dy="7.2">samples = 2</tspan><tspan x="1662" dy="7.2">value = [2, 0, 0]</tspan><tspan x="1662" dy="7.2">class = healthy</tspan></text></g>
<g id="n57"><rect class="n o" x="1714.5" y="1000.6" width="63" height="33"/><text class="t" x="1746" y="1008.8">gini = 0.0<tspan x="1746" dy="7.2">samples = 1</tspan><tspan x="1746" dy="7.2">value = [0, 1, 0]</tspan><tspan x="1746" dy="7.2">class = outer</tspan></text></g>
<g id="n58"><rect class="n h" x="1799.5" y="1000.6" width="62" height="33"/><text class="t" x="1830.5" y="1008.8">gini = 0.0<tspan x="1830.5" dy="7.2">samples = 4</tspan><tspan x="1830.5" dy="7.2">value = [4, 0, 0]</tspan><tspan x="1830.5" dy="7.2">class = healthy</tspan></text></g>
<g id="n59"><rect class="n o" x="1882.5" y="1000.6" width="62" height="33"/><text class="t" x="1913.5" y="1008.8">gini = 0.0<tspan x="1913.5" dy="7.2">samples = 1</tspan><tspan x="1913.5" dy="7.2">value = [0, 1, 0]</tspan><tspan x="1913.5" dy="7.2">class = outer</tspan></text></g>
<g id="n60"><rect class="n" x="1954.5" y="996.6" width="85" height="41" fill="#9153e8"/><text class="t" x="1997" y="1005.2">name_signal &lt;= 0.042<tspan x="1997" dy="7.2">gini = 0.218</tspan><tspan x="1997" dy="7.2">samples = 25</tspan><tspan x="1997" dy="7.2">value = [1, 2, 22]</tspan><tspan x="1997" dy="7.2">class = brinn</tspan></text></g>
<g id="n61"><rect class="n" x="2385.5" y="996.6" width="86" height="41" fill="#e6d7fa"/><text class="t" x="2428.5" y="1005.2">name_signal &lt;= 0.246<tspan x="2428.5" dy="7.2">gini = 0.603</tspan><tspan x="2428.5" dy="7.2">samples = 71</tspan><tspan x="2428.5" dy="7.2">value = [10, 26, 35]</tspan><tspan x="2428.5" dy="7.2">class = brinn</tspan></text></g>
<g id="n62"><rect class="n h" x="2481.5" y="1000.6" width="62" height="33"/><text class="t" x="2512.5" y="1008.8">gini = 0.0<tspan x="2512.5" dy="7.2">samples = 2</tspan><tspan x="2512.5" dy="7.2">value = [2, 0, 0]</tspan><tspan x="2512.5" dy="7.2">class = healthy</tspan></text></g>
<g id="n63"><rect class="n o" x="2564.5" y="1000.6" width="66" height="33"/><text class="t" x="2597.5" y="1008.8">gini = 0.0<tspan x="2597.5" dy="7.2">samples = 12</tspan><tspan x="2597.5" dy="7.2">value = [0, 12, 0]</tspan><tspan x="2597.5" dy="7.2">class = outer</tspan></text></g>
<!-- depth 6 -->
<g id="n30"><rect class="n" x="528.5" y="899.3" width="79" height="41" fill="#e68641"/><text class="t" x="568" y="907.9">skew_25_75 &lt;= 0.05<tspan x="568" dy="7.2">gini = 0.074</tspan><tspan x="568" dy="7.2">samples = 26</tspan><tspan x="568" dy="7.2">value = [25, 1, 0]</tspan><tspan x="568" dy="7.2">class = healthy</tspan></text></g>
<g id="n31"><rect class="n o" x="622.5" y="903.3" width="62" height="33"/><text class="t" x="653.5" y="911.5">gini = 0.0<tspan x="653.5" dy="7.2">samples = 1</tspan><tspan x="653.5" dy="7.2">value = [0, 1, 0]</tspan><tspan x="653.5" dy="7.2">class = outer</tspan></text></g>
<g id="n32"><rect class="n" x="682.5" y="899.3" width="108" height="41" fill="#6aeca0"/><text class="t" x="736.5" y="907.9">score_at_perc_25_75 &lt;= 0.14<tspan x="736.5" dy="7.2">gini = 0.32</tspan><tspan x="736.5" dy="7.2">samples = 5</tspan><tspan x="736.5" dy="7.2">value = [1, 4, 0]</tspan><tspan x="736.5" dy="7.2">class = outer</tspan></text></g>
<g id="n33"><rect class="n h" x="797.5" y="903.3" width="54" height="33"/><text class="t" x="824.5" y="911.5">gini = 0.0<tspan x="824.5" dy="7.2">samples = 2</tspan><tspan x="824.5" dy="7.2">value = [2, 0, 0]</tspan><tspan x="824.5" dy="7.2">class = healthy</tspan></text></g>
<g id="n34"><rect class="n" x="863.5" y="899.3" width="83" height="41" fill="#b388ef"/><text class="t" x="905" y="907.9">skew_10_50 &lt;= 0.332<tspan x="905" dy="7.2">gini = 0.408</tspan><tspan x="905" dy="7.2">samples = 7</tspan><tspan x="905" dy="7.2">value = [0, 2, 5]</tspan><tspan x="905" dy="7.2">class = brinn</tspan></text></g>
<g id="n35"><rect class="n" x="1153.5" y="899.3" width="92" height="41" fill="#b1f5cd"/><text class="t" x="1199.5" y="907.9">entropy_10_25 &lt;= 0.337<tspan x="1199.5" dy="7.2">gini = 0.579</tspan><tspan x="1199.5" dy="7.2">samples = 39</tspan><tspan x="1199.5" dy="7.2">value = [11, 22, 6]</tspan><tspan x="1199.5" dy="7.2">class = outer</tspan></text></g>
<g id="n36"><rect class="n p" x="1252.5" y="903.3" width="61" height="33"/><text class="t" x="1283" y="911.5">gini = 0.0<tspan x="1283" dy="7.2">samples = 7</tspan><tspan x="1283" dy="7.2">value = [0, 0, 7]</tspan><tspan x="1283" dy="7.2">class = brinn</tspan></text></g>
<g id="n37"><rect class="n o" x="1335.5" y="903.3" width="63" height="33"/><text class="t" x="1367" y="911.5">gini = 0.0<tspan x="1367" dy="7.2">samples = 1</tspan><tspan x="1367" dy="7.2">value = [0, 1, 0]</tspan><tspan x="1367" dy="7.2">class = outer</tspan></text></g>
<g id="n38"><rect class="n h" x="1419.5" y="903.3" width="62" height="33"/><text class="t" x="1450.5" y="911.5">gini = 0.0<tspan x="1450.5" dy="7.2">samples = 1</tspan><tspan x="1450.5" dy="7.2">value = [1, 0, 0]</tspan><tspan x="1450.5" dy="7.2">class = healthy</tspan></text></g>
<g id="n39"><rect class="n" x="1501.5" y="899.3" width="69" height="41" fill="#50e890"/><text class="t" x="1536" y="907.9">min_25_75 &lt;= 0.4<tspan x="1536" dy="7.2">gini = 0.188</tspan><tspan x="1536" dy="7.2">samples = 19</tspan><tspan x="1536" dy="7.2">value = [0, 17, 2]</tspan><tspan x="1536" dy="7.2">class = outer</tspan></text></g>
<g id="n40"><rect class="n o" x="1589.5" y="903.3" width="62" height="33"/><text class="t" x="1620.5" y="911.5">gini = 0.0<tspan x="1620.5" dy="7.2">samples = 2</tspan><tspan x="1620.5" dy="7.2">value = [0, 2, 0]</tspan><tspan x="1620.5" dy="7.2">class = outer</tspan></text></g>
<g id="n41"><rect class="n" x="1646.5" y="899.3" width="113" height="41" fill="#f2c09c"/><text class="t" x="1703" y="907.9">score_at_perc_25_75 &lt;= 0.098<tspan x="1703" dy="7.2">gini = 0.444</tspan><tspan x="1703" dy="7.2">samples = 3</tspan><tspan x="1703" dy="7.2">value = [2, 1, 0]</tspan><tspan x="1703" dy="7.2">class = healthy</tspan></text></g>
<g id="n42"><rect class="n" x="1831.5" y="899.3" width="81" height="41" fill="#eca06a"/><text class="t" x="1872" y="907.9">kurt_25_75 &lt;= 0.808<tspan x="1872" dy="7.2">gini = 0.32</tspan><tspan x="1872" dy="7.2">samples = 5</tspan><tspan x="1872" dy="7.2">value = [4, 1, 0]</tspan><tspan x="1872" dy="7.2">class = healthy</tspan></text></g>
<g id="n43"><rect class="n" x="2163.5" y="899.3" width="98" height="41" fill="#c9abf4"/><text class="t" x="2212.5" y="907.9">std_class_10_50 &lt;= 0.084<tspan x="2212.5" dy="7.2">gini = 0.549</tspan><tspan x="2212.5" dy="7.2">samples = 96</tspan><tspan x="2212.5" dy="7.2">value = [11, 28, 57]</tspan><tspan x="2212.5" dy="7.2">class = brinn</tspan></text></g>
<g id="n44"><rect class="n" x="2514.5" y="899.3" width="80" height="41" fill="#5ae996"/><text class="t" x="2554.5" y="907.9">min_25_75 &lt;= 0.212<tspan x="2554.5" dy="7.2">gini = 0.245</tspan><tspan x="2554.5" dy="7.2">samples = 14</tspan><tspan x="2554.5" dy="7.2">value = [2, 12, 0]</tspan><tspan x="2554.5" dy="7.2">class = outer</tspan></text></g>
<g id="n45"><rect class="n p" x="2608.5" y="903.3" width="62" height="33"/><text class="t" x="2639.5" y="911.5">gini = 0.0<tspan x="2639.5" dy="7.2">samples = 3</tspan><tspan x="2639.5" dy="7.2">value = [0, 0, 3]</tspan><tspan x="2639.5" dy="7.2">class = brinn</tspan></text></g>
<!-- depth 5 -->
<g id="n17"><rect class="n p" x="412.5" y="806" width="62" height="33"/><text class="t" x="443.5" y="814.2">gini = 0.0<tspan x="443.5" dy="7.2">samples = 3</tspan><tspan x="443.5" dy="7.2">value = [0, 0, 3]</tspan><tspan x="443.5" dy="7.2">class = brinn</tspan></text></g>
<g id="n18"><rect class="n o" x="495.5" y="806" width="58" height="33"/><text class="t" x="524.5" y="814.2">gini = 0.0<tspan x="524.5" dy="7.2">samples = 1</tspan><tspan x="524.5" dy="7.2">value = [0, 1, 0]</tspan><tspan x="524.5" dy="7.2">class = outer</tspan></text></g>
<g id="n19"><rect class="n" x="561.5" y="802" width="97" height="41" fill="#e78b49"/><text class="t" x="610" y="810.6">std_class_25_75 &lt;= 0.045<tspan x="610" dy="7.2">gini = 0.137</tspan><tspan x="610" dy="7.2">samples = 27</tspan><tspan x="610" dy="7.2">value = [25, 2, 0]</tspan><tspan x="610" dy="7.2">class = healthy</tspan></text></g>
<g id="n20"><rect class="n" x="736.5" y="802" width="84" height="41" fill="#cef8e0"/><text class="t" x="778.5" y="810.6">name_signal &lt;= 0.263<tspan x="778.5" dy="7.2">gini = 0.49</tspan><tspan x="778.5" dy="7.2">samples = 7</tspan><tspan x="778.5" dy="7.2">value = [3, 4, 0]</tspan><tspan x="778.5" dy="7.2">class = outer</tspan></text></g>
<g id="n21"><rect class="n" x="1003.5" y="802" width="96" height="41" fill="#b6f5d0"/><text class="t" x="1051.5" y="810.6">coef_var_10_50 &lt;= 0.005<tspan x="1051.5" dy="7.2">gini = 0.613</tspan><tspan x="1051.5" dy="7.2">samples = 46</tspan><tspan x="1051.5" dy="7.2">value = [11, 24, 11]</tspan><tspan x="1051.5" dy="7.2">class = outer</tspan></text></g>
<g id="n23"><rect class="n" x="1285.5" y="802" width="80" height="41" fill="#9355e9"/><text class="t" x="1325.5" y="810.6">max_25_75 &lt;= 0.617<tspan x="1325.5" dy="7.2">gini = 0.219</tspan><tspan x="1325.5" dy="7.2">samples = 8</tspan><tspan x="1325.5" dy="7.2">value = [0, 1, 7]</tspan><tspan x="1325.5" dy="7.2">class = brinn</tspan></text></g>
<g id="n24"><rect class="n p" x="1378.5" y="806" width="61" height="33"/><text class="t" x="1409" y="814.2">gini = 0.0<tspan x="1409" dy="7.2">samples = 2</tspan><tspan x="1409" dy="7.2">value = [0, 0, 2]</tspan><tspan x="1409" dy="7.2">class = brinn</tspan></text></g>
<g id="n25"><rect class="n" x="1454.5" y="802" width="78" height="41" fill="#5ae996"/><text class="t" x="1493.5" y="810.6">kurt_25_75 &lt;= 0.131<tspan x="1493.5" dy="7.2">gini = 0.265</tspan><tspan x="1493.5" dy="7.2">samples = 20</tspan><tspan x="1493.5" dy="7.2">value = [1, 17, 2]</tspan><tspan x="1493.5" dy="7.2">class = outer</tspan></text></g>
<g id="n26"><rect class="n" x="1623.5" y="802" width="75" height="41" fill="#bdf6d5"/><text class="t" x="1661" y="810.6">var_10_50 &lt;= 0.034<tspan x="1661" dy="7.2">gini = 0.48</tspan><tspan x="1661" dy="7.2">samples = 5</tspan><tspan x="1661" dy="7.2">value = [2, 3, 0]</tspan><tspan x="1661" dy="7.2">class = outer</tspan></text></g>
<g id="n27"><rect class="n h" x="1715.5" y="806" width="61" height="33"/><text class="t" x="1746" y="814.2">gini = 0.0<tspan x="1746" dy="7.2">samples = 4</tspan><tspan x="1746" dy="7.2">value = [4, 0, 0]</tspan><tspan x="1746" dy="7.2">class = healthy</tspan></text></g>
<g id="n28"><rect class="n" x="1993.5" y="802" width="97" height="41" fill="#ceb2f5"/><text class="t" x="2042" y="810.6">std_class_10_25 &lt;= 0.004<tspan x="2042" dy="7.2">gini = 0.577</tspan><tspan x="2042" dy="7.2">samples = 101</tspan><tspan x="2042" dy="7.2">value = [15, 29, 57]</tspan><tspan x="2042" dy="7.2">class = brinn</tspan></text></g>
<g id="n29"><rect class="n" x="2555.5" y="802" width="82" height="41" fill="#80eeae"/><text class="t" x="2596.5" y="810.6">skew_10_50 &lt;= 0.485<tspan x="2596.5" dy="7.2">gini = 0.457</tspan><tspan x="2596.5" dy="7.2">samples = 17</tspan><tspan x="2596.5" dy="7.2">value = [2, 12, 3]</tspan><tspan x="2596.5" dy="7.2">class = outer</tspan></text></g>
<!-- depth 4 -->
<g id="n9"><rect class="n" x="436.5" y="704.7" width="96" height="41" fill="#ab7bee"/><text class="t" x="484.5" y="713.3">std_class_25_75 &lt;= 0.084<tspan x="484.5" dy="7.2">gini = 0.375</tspan><tspan x="484.5" dy="7.2">samples = 4</tspan><tspan x="484.5" dy="7.2">value = [0, 1, 3]</tspan><tspan x="484.5" dy="7.2">class = brinn</tspan></text></g>
<g id="n10"><rect class="n" x="637.5" y="704.7" width="114" height="41" fill="#eb9c63"/><text class="t" x="694.5" y="713.3">score_at_perc_10_25 &lt;= 0.439<tspan x="694.5" dy="7.2">gini = 0.291</tspan><tspan x="694.5" dy="7.2">samples = 34</tspan><tspan x="694.5" dy="7.2">value = [28, 6, 0]</tspan><tspan x="694.5" dy="7.2">class = healthy</tspan></text></g>
<g id="n11"><rect class="n" x="1139.5" y="704.7" width="97" height="41" fill="#d9fae7"/><text class="t" x="1188" y="713.3">std_class_10_50 &lt;= 0.115<tspan x="1188" dy="7.2">gini = 0.633</tspan><tspan x="1188" dy="7.2">samples = 54</tspan><tspan x="1188" dy="7.2">value = [11, 25, 18]</tspan><tspan x="1188" dy="7.2">class = outer</tspan></text></g>
<g id="n12"><rect class="n h" x="1243.5" y="708.7" width="60" height="33"/><text class="t" x="1273.5" y="716.9">gini = 0.0<tspan x="1273.5" dy="7.2">samples = 6</tspan><tspan x="1273.5" dy="7.2">value = [6, 0, 0]</tspan><tspan x="1273.5" dy="7.2">class = healthy</tspan></text></g>
<g id="n13"><rect class="n" x="1410.5" y="704.7" width="81" height="41" fill="#70eca4"/><text class="t" x="1451" y="713.3">max_10_50 &lt;= 0.138<tspan x="1451" dy="7.2">gini = 0.368</tspan><tspan x="1451" dy="7.2">samples = 22</tspan><tspan x="1451" dy="7.2">value = [1, 17, 4]</tspan><tspan x="1451" dy="7.2">class = outer</tspan></text></g>
<g id="n14"><rect class="n" x="1653.5" y="704.7" width="99" height="41" fill="#f2c09c"/><text class="t" x="1703" y="713.3">percScore_10_25 &lt;= 0.554<tspan x="1703" dy="7.2">gini = 0.444</tspan><tspan x="1703" dy="7.2">samples = 9</tspan><tspan x="1703" dy="7.2">value = [6, 3, 0]</tspan><tspan x="1703" dy="7.2">class = healthy</tspan></text></g>
<g id="n15"><rect class="n" x="2263.5" y="704.7" width="113" height="41" fill="#e0cef9"/><text class="t" x="2320" y="713.3">score_at_perc_10_50 &lt;= 0.3<tspan x="2320" dy="7.2">gini = 0.6</tspan><tspan x="2320" dy="7.2">samples = 118</tspan><tspan x="2320" dy="7.2">value = [17, 41, 60]</tspan><tspan x="2320" dy="7.2">class = brinn</tspan></text></g>
<g id="n16"><rect class="n p" x="2370.5" y="708.7" width="66" height="33"/><text class="t" x="2403.5" y="716.9">gini = 0.0<tspan x="2403.5" dy="7.2">samples = 17</tspan><tspan x="2403.5" dy="7.2">value = [0, 0, 17]</tspan><tspan x="2403.5" dy="7.2">class = brinn</tspan></text></g>
<!-- depth 3 -->
<g id="n5"><rect class="n" x="550.5" y="607.4" width="79" height="41" fill="#eda979"/><text class="t" x="590" y="616">kurt_10_50 &lt;= 0.147<tspan x="590" dy="7.2">gini = 0.417</tspan><tspan x="590" dy="7.2">samples = 38</tspan><tspan x="590" dy="7.2">value = [28, 7, 3]</tspan><tspan x="590" dy="7.2">class = healthy</tspan></text></g>
<g id="n6"><rect class="n" x="1190.5" y="607.4" width="79" height="41" fill="#defbea"/><text class="t" x="1230" y="616">min_10_50 &lt;= 0.269<tspan x="1230" dy="7.2">gini = 0.656</tspan><tspan x="1230" dy="7.2">samples = 60</tspan><tspan x="1230" dy="7.2">value = [17, 25, 18]</tspan><tspan x="1230" dy="7.2">class = outer</tspan></text></g>
<g id="n7"><rect class="n" x="1527.5" y="607.4" width="100" height="41" fill="#94f1bb"/><text class="t" x="1577.5" y="616">percScore_25_75 &lt;= 0.883<tspan x="1577.5" dy="7.2">gini = 0.516</tspan><tspan x="1577.5" dy="7.2">samples = 31</tspan><tspan x="1577.5" dy="7.2">value = [7, 20, 4]</tspan><tspan x="1577.5" dy="7.2">class = outer</tspan></text></g>
<g id="n8"><rect class="n" x="2319.5" y="607.4" width="85" height="41" fill="#cfb3f5"/><text class="t" x="2362" y="616">mean_10_50 &lt;= 0.792<tspan x="2362" dy="7.2">gini = 0.567</tspan><tspan x="2362" dy="7.2">samples = 135</tspan><tspan x="2362" dy="7.2">value = [17, 41, 77]</tspan><tspan x="2362" dy="7.2">class = brinn</tspan></text></g>
<!-- depth 2 -->
<g id="n3"><rect class="n" x="871.5" y="510.1" width="78" height="41" fill="#fae6d8"/><text class="t" x="910.5" y="518.7">min_10_50 &lt;= 0.192<tspan x="910.5" dy="7.2">gini = 0.637</tspan><tspan x="910.5" dy="7.2">samples = 98</tspan><tspan x="910.5" dy="7.2">value = [45, 32, 21]</tspan><tspan x="910.5" dy="7.2">class = healthy</tspan></text></g>
<g id="n4"><rect class="n" x="1929.5" y="510.1" width="80" height="41" fill="#e7d9fa"/><text class="t" x="1969.5" y="518.7">max_25_75 &lt;= 0.245<tspan x="1969.5" dy="7.2">gini = 0.606</tspan><tspan x="1969.5" dy="7.2">samples = 166</tspan><tspan x="1969.5" dy="7.2">value = [24, 61, 81]</tspan><tspan x="1969.5" dy="7.2">class = brinn</tspan></text></g>
<!-- depth 1 -->
<g id="n1"><rect class="n" x="1397.5" y="412.8" width="84" height="41" fill="#f8f5fe"/><text class="t" x="1439.5" y="421.4">mean_25_75 &lt;= 0.255<tspan x="1439.5" dy="7.2">gini = 0.658</tspan><tspan x="1439.5" dy="7.2">samples = 264</tspan><tspan x="1439.5" dy="7.2">value = [69, 93, 102]</tspan><tspan x="1439.5" dy="7.2">class = brinn</tspan></text></g>
<g id="n2"><rect class="n h" x="1490.5" y="416.8" width="65" height="33"/><text class="t" x="1523" y="425">gini = 0.0<tspan x="1523" dy="7.2">samples = 24</tspan><tspan x="1523" dy="7.2">value = [24, 0, 0]</tspan><tspan x="1523" dy="7.2">class = healthy</tspan></text></g>
<!-- depth 0 -->
<g id="n0"><rect class="n" x="1439.5" y="315.5" width="85" height="41" fill="#f9f6fe"/><text class="t" x="1482" y="324.1">mean_10_25 &lt;= 0.845<tspan x="1482" dy="7.2">gini = 0.666</tspan><tspan x="1482" dy="7.2">samples = 288</tspan><tspan x="1482" dy="7.2">value = [93, 93, 102]</tspan><tspan x="1482" dy="7.2">class = brinn</tspan></text></g>
</g>
</svg>
